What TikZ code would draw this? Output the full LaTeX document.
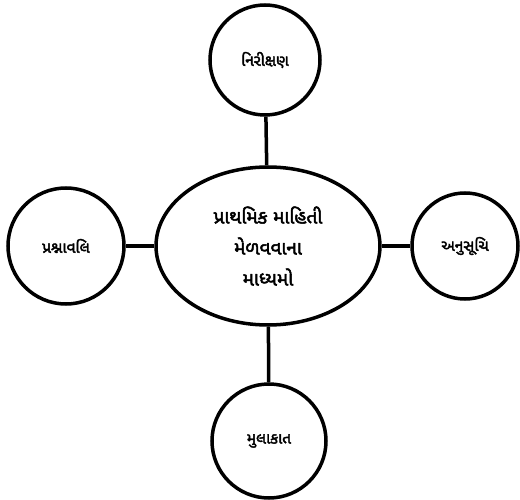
\documentclass[tikz,border=0pt]{standalone}
\usepackage{fontspec}
\newfontfamily\gujfont[Script=Gujarati, BoldFont={Noto Sans Gujarati UI}, BoldFeatures={FakeBold=2.5}]{Noto Sans Gujarati UI}
\usetikzlibrary{positioning,shapes.geometric}

\tikzset{
  topic/.style={circle, draw, line width=3.5pt, fill=white, minimum size=110pt, inner sep=0pt, font=\gujfont\bfseries\fontsize{15.5}{18}\selectfont},
  hub/.style={ellipse, draw, line width=3.5pt, fill=white, minimum width=224pt, minimum height=158pt, inner sep=0pt, align=center, font=\gujfont\bfseries\fontsize{19}{31}\selectfont},
  link/.style={line width=3.5pt}
}

\begin{document}
\begin{tikzpicture}[x=1pt,y=-1pt]
\useasboundingbox (0,0) rectangle (520,500);
% hub in the middle
\node[hub] (hub) at (268,246) {પ્રાથમિક માહિતી\\મેળવવાના\\માધ્યમો};
% four ways round it
\node[topic] (top) at (265,60) {નિરીક્ષણ};
\node[topic, minimum size=116pt] (left) at (66,246) {પ્રશ્નાવલિ};
\node[topic, minimum size=106pt] (right) at (465,246) {અનુસૂચિ};
\node[topic, minimum size=114pt] (bottom) at (269,441) {મુલાકાત};
\draw[link] (hub) -- (top);
\draw[link] (hub) -- (left);
\draw[link] (hub) -- (right);
\draw[link] (hub) -- (bottom);
\end{tikzpicture}
\end{document}
